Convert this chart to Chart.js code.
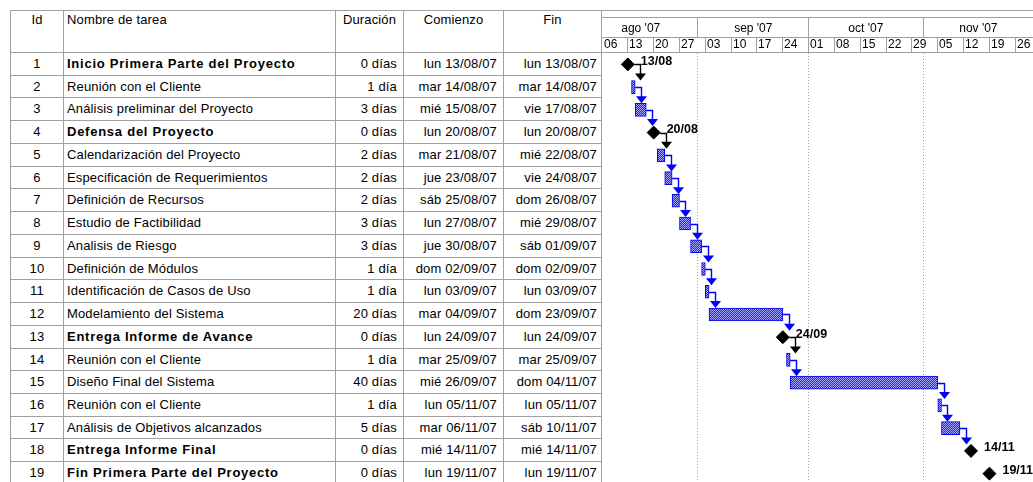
<!DOCTYPE html>
<html>
<head>
<meta charset="utf-8">
<script src="https://cdn.jsdelivr.net/npm/chart.js@4.4.0/dist/chart.umd.min.js"></script>
<style>
  html, body { margin: 0; padding: 0; background: #fff; width: 1033px; height: 482px; overflow: hidden; }
  #tabla {
    position: absolute; left: 10px; top: 10px;
    display: grid;
    grid-template-columns: 53px 272px 68px 100px 98px;
    grid-template-rows: 42px repeat(19, 22.7368px);
    border-left: 1px solid #a0a0a0; border-top: 1px solid #a0a0a0;
    font: 13px "Liberation Sans", Arial, sans-serif; color: #000;
  }
  #tabla div {
    box-sizing: border-box;
    border-right: 1px solid #a0a0a0; border-bottom: 1px solid #a0a0a0;
    white-space: nowrap; overflow: hidden;
    line-height: 21.7px; letter-spacing: 0.15px;
  }
  #tabla div.th { line-height: 16px; padding-top: 1px; text-align: center; }
  #tabla div.th.nombre { text-align: left; padding-left: 3px; }
  #tabla div.id { text-align: center; }
  #tabla div.nombre { padding-left: 3px; }
  #tabla div.num { text-align: right; padding-right: 6px; }
  #tabla div.fin { text-align: right; padding-right: 4px; }
  #tabla div.b { font-weight: bold; letter-spacing: 0.75px; }
  #gantt { position: absolute; left: 602px; top: 10px; width: 431px; height: 475px; }
</style>
</head>
<body>
<div id="tabla"></div>
<div id="gantt"><canvas id="ganttChart"></canvas></div>
<script>
// ── Data ─────────────────────────────────────────────
const headers = ["Id", "Nombre de tarea", "Duración", "Comienzo", "Fin"];

const taskNames = [
  "Inicio Primera Parte del Proyecto",
  "Reunión con el Cliente",
  "Análisis preliminar del Proyecto",
  "Defensa del Proyecto",
  "Calendarización del Proyecto",
  "Especificación de Requerimientos",
  "Definición de Recursos",
  "Estudio de Factibilidad",
  "Analisis de Riesgo",
  "Definición de Módulos",
  "Identificación de Casos de Uso",
  "Modelamiento del Sistema",
  "Entrega Informe de Avance",
  "Reunión con el Cliente",
  "Diseño Final del Sistema",
  "Reunión con el Cliente",
  "Análisis de Objetivos alcanzados",
  "Entrega Informe Final",
  "Fin Primera Parte del Proyecto"
];
const startDates = [
  "2007-08-13", "2007-08-14", "2007-08-15", "2007-08-20", "2007-08-21",
  "2007-08-23", "2007-08-25", "2007-08-27", "2007-08-30", "2007-09-02",
  "2007-09-03", "2007-09-04", "2007-09-24", "2007-09-25", "2007-09-26",
  "2007-11-05", "2007-11-06", "2007-11-14", "2007-11-19"
];
const durationDays = [0, 1, 3, 0, 2, 2, 2, 3, 3, 1, 1, 20, 0, 1, 40, 1, 5, 0, 0];
// predecessor id of each task (finish-to-start), null = none
const predecessors = [null, 1, 2, 3, 4, 5, 6, 7, 8, 9, 10, 11, 12, 13, 14, 15, 16, 17, null];

// timescale
const timelineStart = "2007-08-06";
const weekLabels = ["06", "13", "20", "27", "03", "10", "17", "24", "01", "08", "15", "22", "29", "05", "12", "19", "26"];
const monthLabels = ["ago '07", "sep '07", "oct '07", "nov '07"];
const monthStarts = ["2007-08-01", "2007-09-01", "2007-10-01", "2007-11-01"];
const monthLengths = [31, 30, 31, 30];

// ── Helpers ──────────────────────────────────────────
const DAY = 86400000;
const t0 = Date.parse(timelineStart + "T00:00:00Z");
function dayOf(s) { return (Date.parse(s + "T00:00:00Z") - t0) / DAY; }
const diasSemana = ["dom", "lun", "mar", "mié", "jue", "vie", "sáb"];
function fmtLargo(s, plus) {
  const d = new Date(Date.parse(s + "T00:00:00Z") + plus * DAY);
  const dd = String(d.getUTCDate()).padStart(2, "0");
  const mm = String(d.getUTCMonth() + 1).padStart(2, "0");
  const yy = String(d.getUTCFullYear()).slice(2);
  return diasSemana[d.getUTCDay()] + " " + dd + "/" + mm + "/" + yy;
}
function fmtCorto(s) { return s.slice(8, 10) + "/" + s.slice(5, 7); }

const isMilestone = durationDays.map(function (d) { return d === 0; });
const startDay = startDates.map(dayOf);

// ── Table (left side) ────────────────────────────────
const tabla = document.getElementById("tabla");
function cell(txt, cls) {
  const d = document.createElement("div");
  d.className = cls;
  d.textContent = txt;
  tabla.appendChild(d);
}
headers.forEach(function (h, i) { cell(h, "th" + (i === 1 ? " nombre" : "")); });
taskNames.forEach(function (name, i) {
  const b = isMilestone[i] ? " b" : "";
  const dur = durationDays[i];
  cell(String(i + 1), "id");
  cell(name, "nombre" + b);
  cell(dur === 1 ? "1 día" : dur + " días", "num");
  cell(fmtLargo(startDates[i], 0), "num");
  cell(fmtLargo(startDates[i], Math.max(dur - 1, 0)), "fin");
});

// ── Gantt (Chart.js) ─────────────────────────────────
const PX_PER_DAY = 3.69;
const lineClr = "#a0a0a0";

function barPattern(ctx) {
  const c = document.createElement("canvas");
  c.width = 2; c.height = 2;
  const g = c.getContext("2d");
  g.fillStyle = "#1e1eff"; g.fillRect(0, 0, 2, 2);
  g.fillStyle = "#a8a8ff"; g.fillRect(0, 0, 1, 1); g.fillRect(1, 1, 1, 1);
  return ctx.createPattern(c, "repeat");
}

const ganttPlugin = {
  id: "ganttExtras",
  beforeDatasetsDraw: function (chart) {
    // dotted month separators in the bar area
    const { ctx, chartArea, scales: { x } } = chart;
    ctx.save();
    ctx.strokeStyle = lineClr;
    ctx.lineWidth = 1;
    ctx.setLineDash([1, 2]);
    monthStarts.forEach(function (m) {
      const px = Math.floor(x.getPixelForValue(dayOf(m))) + 0.5;
      if (px <= chartArea.left + 1) return;
      ctx.beginPath();
      ctx.moveTo(px, chartArea.top);
      ctx.lineTo(px, chartArea.bottom);
      ctx.stroke();
    });
    ctx.restore();
  },
  afterDatasetsDraw: function (chart) {
    const { ctx, scales: { x, y } } = chart;
    ctx.save();
    // dependency links
    predecessors.forEach(function (p, i) {
      if (p === null) return;
      const pi = p - 1;
      const yP = y.getPixelForValue(pi);
      const endX = isMilestone[pi]
        ? x.getPixelForValue(startDay[pi]) + 6.5
        : x.getPixelForValue(startDay[pi] + durationDays[pi]);
      const tx = Math.round(endX + 6) + 0.5;
      const top = y.getPixelForValue(i) - 6.5;
      const clr = isMilestone[pi] ? "#000000" : "#0000ff";
      ctx.strokeStyle = clr;
      ctx.fillStyle = clr;
      ctx.lineWidth = 1.4;
      ctx.beginPath();
      ctx.moveTo(endX, Math.round(yP) + 0.5);
      ctx.lineTo(tx, Math.round(yP) + 0.5);
      ctx.lineTo(tx, top - 6);
      ctx.stroke();
      ctx.beginPath();
      ctx.moveTo(tx - 5.5, top - 7);
      ctx.lineTo(tx + 5.5, top - 7);
      ctx.lineTo(tx, top);
      ctx.closePath();
      ctx.fill();
    });
    // milestone date labels
    ctx.fillStyle = "#000";
    ctx.font = "bold 12.5px 'Liberation Sans', Arial, sans-serif";
    ctx.textAlign = "left";
    ctx.textBaseline = "middle";
    startDates.forEach(function (s, i) {
      if (!isMilestone[i]) return;
      ctx.fillText(fmtCorto(s), x.getPixelForValue(startDay[i]) + 13, y.getPixelForValue(i) - 3);
    });
    ctx.restore();
  },
  afterDraw: function (chart) {
    // timescale header
    const { ctx, chartArea, scales: { x } } = chart;
    const L = 0, R = chart.width;
    const yTop = 0.5, yMonth = 7.5, yWeek = 27.5, yBot = chartArea.top - 0.5;
    ctx.save();
    ctx.strokeStyle = lineClr;
    ctx.lineWidth = 1;
    ctx.beginPath();
    [yTop, yMonth, yWeek, yBot].forEach(function (yy) { ctx.moveTo(L, yy); ctx.lineTo(R, yy); });
    monthStarts.forEach(function (m) {
      const px = Math.floor(x.getPixelForValue(dayOf(m))) + 0.5;
      ctx.moveTo(px, yMonth); ctx.lineTo(px, yWeek);
    });
    weekLabels.forEach(function (w, k) {
      const px = Math.floor(x.getPixelForValue(k * 7)) + 0.5;
      if (k === 0) return;
      ctx.moveTo(px, yWeek); ctx.lineTo(px, yBot);
    });
    ctx.stroke();

    ctx.fillStyle = "#000";
    ctx.font = "12px 'Liberation Sans', Arial, sans-serif";
    ctx.textBaseline = "middle";
    ctx.textAlign = "center";
    monthLabels.forEach(function (m, i) {
      const mid = dayOf(monthStarts[i]) + monthLengths[i] / 2;
      ctx.fillText(m, x.getPixelForValue(mid), 18.5);
    });
    ctx.textAlign = "left";
    weekLabels.forEach(function (w, k) {
      ctx.fillText(w, Math.floor(x.getPixelForValue(k * 7)) + 2, 35);
    });
    ctx.restore();
  }
};

const canvas = document.getElementById("ganttChart");
const gctx = canvas.getContext("2d");

new Chart(canvas, {
  type: "bar",
  data: {
    labels: taskNames.map(function (n, i) { return String(i + 1); }),
    datasets: [
      {
        type: "bar",
        data: startDay.map(function (s, i) {
          return isMilestone[i] ? null : [s, s + durationDays[i]];
        }),
        backgroundColor: barPattern(gctx),
        borderColor: "#0000ff",
        borderWidth: 1,
        borderSkipped: false,
        barThickness: 13,
        grouped: false
      },
      {
        type: "scatter",
        data: startDay
          .map(function (s, i) { return isMilestone[i] ? { x: s, y: String(i + 1) } : null; })
          .filter(function (p) { return p !== null; }),
        pointStyle: "rectRot",
        radius: 6.5,
        backgroundColor: "#000",
        borderColor: "#000",
        borderWidth: 1
      }
    ]
  },
  options: {
    indexAxis: "y",
    responsive: true,
    maintainAspectRatio: false,
    animation: false,
    layout: { autoPadding: false, padding: { top: 43, left: 0, right: 0, bottom: 0 } },
    plugins: { legend: { display: false }, tooltip: { enabled: false } },
    scales: {
      x: { type: "linear", min: 0, max: 431 / PX_PER_DAY, display: false },
      y: { type: "category", display: false, offset: true }
    }
  },
  plugins: [ganttPlugin]
});
</script>
</body>
</html>
